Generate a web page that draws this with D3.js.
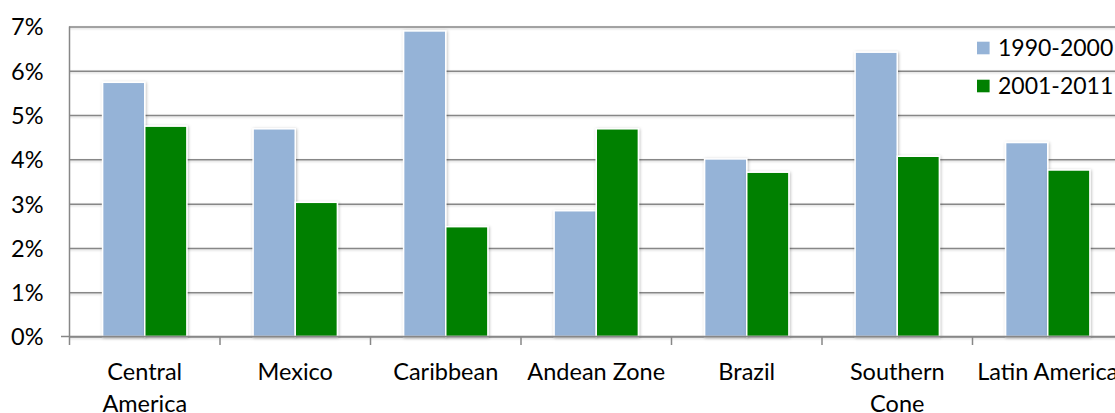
<!DOCTYPE html>
<html>
<head>
<meta charset="utf-8">
<script src="https://cdn.jsdelivr.net/npm/d3@7"></script>
<style>
  html, body { margin: 0; padding: 0; background: #fff; overflow: hidden; }
  svg { display: block; font-family: Lato, "Open Sans", sans-serif; }
</style>
</head>
<body>
<svg id="chart" width="1115" height="413"></svg>
<script>
// Average annual growth by region, two periods (percent)
const categories = ["Central America", "Mexico", "Caribbean", "Andean Zone", "Brazil", "Southern Cone", "Latin America"];
const categoryLines = [["Central", "America"], ["Mexico"], ["Caribbean"], ["Andean Zone"], ["Brazil"], ["Southern", "Cone"], ["Latin America"]];
const seriesNames = ["1990-2000", "2001-2011"];
const values1990 = [5.74, 4.69, 6.90, 2.84, 4.01, 6.42, 4.38];
const values2001 = [4.75, 3.03, 2.48, 4.69, 3.71, 4.07, 3.76];
const yTicks = [0, 1, 2, 3, 4, 5, 6, 7];

const colors = ["#95B3D7", "#008000"];
const gridColor = "#878787";

const svg = d3.select("#chart");
const plotLeft = 69.5, plotRight = 1123, plotTop = 26.5, plotBottom = 336.5;

const defs = svg.append("defs");
const sh = defs.append("filter").attr("id", "barShadow")
  .attr("x", "-20%").attr("y", "-20%").attr("width", "140%").attr("height", "140%");
sh.append("feDropShadow").attr("dx", 0.8).attr("dy", 0.8).attr("stdDeviation", 1.6)
  .attr("flood-color", "#000").attr("flood-opacity", 0.28);
const gsh = defs.append("filter").attr("id", "lineShadow")
  .attr("filterUnits", "userSpaceOnUse")
  .attr("x", 0).attr("y", -10).attr("width", 1115).attr("height", 433);
gsh.append("feDropShadow").attr("dx", 0).attr("dy", 1).attr("stdDeviation", 0.8)
  .attr("flood-color", "#000").attr("flood-opacity", 0.18);

const y = d3.scaleLinear().domain([0, 7]).range([plotBottom, plotTop]);

// category slots (full width) and the bar group inside each slot
const xSlot = d3.scaleBand().domain(categories).range([plotLeft, plotRight]);
const x0 = d3.scaleBand().domain(categories).range([plotLeft, plotRight])
  .paddingInner(0.44).paddingOuter(0.22);
const x1 = d3.scaleBand().domain(seriesNames).range([0, x0.bandwidth()]);

// horizontal gridlines with left tick stubs
const yAxis = d3.axisLeft(y).tickValues(yTicks).tickFormat(d => d + "%")
  .tickSize(-(1115 - plotLeft + 10)).tickPadding(18);
const gy = svg.append("g").attr("transform", `translate(${plotLeft},0)`).call(yAxis);
gy.select(".domain").remove();
gy.selectAll(".tick line")
  .attr("x1", -8.5)
  .attr("stroke", gridColor).attr("stroke-width", 1.5)
  .attr("filter", "url(#lineShadow)");
gy.selectAll(".tick text")
  .attr("x", -26).attr("dy", "0.36em")
  .attr("fill", "#000").style("font-size", "23.5px").style("font-family", "Lato, sans-serif");

// bars
const rows = categories.map((c, i) => ({ c, vals: [values1990[i], values2001[i]] }));
const groups = svg.append("g").selectAll("g").data(rows).join("g")
  .attr("transform", d => `translate(${x0(d.c)},0)`);
groups.selectAll("rect")
  .data(d => d.vals.map((v, k) => ({ k, v })))
  .join("rect")
  .attr("x", d => x1(seriesNames[d.k]))
  .attr("width", x1.bandwidth())
  .attr("y", d => y(d.v))
  .attr("height", d => y(0) - y(d.v))
  .attr("fill", d => colors[d.k])
  .attr("stroke", "#fff").attr("stroke-width", 1.5)
  .attr("filter", "url(#barShadow)");

// vertical axis line
svg.append("line")
  .attr("x1", plotLeft).attr("x2", plotLeft).attr("y1", y(7)).attr("y2", y(0))
  .attr("stroke", gridColor).attr("stroke-width", 1.5);

// category axis
const xAxis = d3.axisBottom(xSlot).tickSize(0).tickFormat("");
const gx = svg.append("g").attr("transform", `translate(0,${plotBottom})`).call(xAxis);
gx.select(".domain").attr("stroke", gridColor).attr("stroke-width", 1.5)
  .attr("d", `M${plotLeft - 8.5},0H${1120}`);
gx.selectAll(".tick line").remove();

// boundary tick marks between categories
const bounds = categories.map(c => xSlot(c)).concat([plotRight]);
gx.selectAll(".bound").data(bounds).join("line").attr("class", "bound")
  .attr("x1", d => d).attr("x2", d => d).attr("y1", 0).attr("y2", 8.5)
  .attr("stroke", gridColor).attr("stroke-width", 1.5);

// category labels
const labels = svg.append("g").selectAll("text").data(categories).join("text")
  .attr("x", c => xSlot(c) + xSlot.bandwidth() / 2)
  .attr("y", 380)
  .attr("text-anchor", "middle")
  .attr("fill", "#000")
  .style("font-size", "23.5px");
labels.each(function (c, i) {
  d3.select(this).selectAll("tspan").data(categoryLines[i]).join("tspan")
    .attr("x", xSlot(c) + xSlot.bandwidth() / 2)
    .attr("dy", (d, j) => j === 0 ? 0 : 32)
    .text(d => d);
});

// legend
const legend = svg.append("g").selectAll("g").data(seriesNames).join("g")
  .attr("transform", (d, i) => `translate(977,${48 + i * 38})`);
legend.append("rect")
  .attr("x", 0).attr("y", -6.3).attr("width", 12.6).attr("height", 12.6)
  .attr("fill", (d, i) => colors[i]);
legend.append("text")
  .attr("x", 21).attr("dy", "0.36em")
  .attr("fill", "#000").style("font-size", "23px")
  .text(d => d);
</script>
</body>
</html>
